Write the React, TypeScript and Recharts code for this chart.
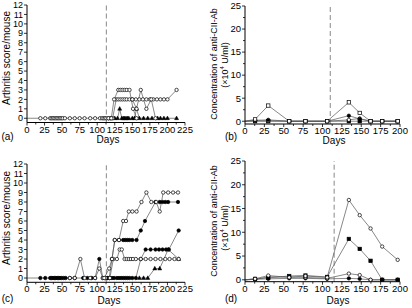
import React from "react";
import { LineChart, Line, XAxis, YAxis, ReferenceLine } from "recharts";

const FONT = '"Liberation Sans", Arial, Helvetica, sans-serif';
const LINE = "#555";

// (a) arthritis score per mouse, first group
const aDays1 = [0, 19, 26, 33, 35, 37, 39, 41, 43, 45, 47, 49, 51, 54, 61, 68, 75, 82, 90, 97, 104, 107, 109, 111, 113, 116, 119, 122, 127, 130, 133, 136, 139, 142, 146, 150, 155, 160, 165, 170, 175, 180, 185, 190, 195, 200, 213];
const aScore1 = [0, 0, 0, 0, 0, 0, 0, 0, 0, 0, 0, 0, 0, 0, 0, 0, 0, 0, 0, 0, 0, 0, 0, 0, 0, 0, 0, 0, 2, 2, 2, 2, 2, 2, 2, 2, 2, 2, 2, 2, 2, 2, 2, 2, 2, 2, 3];
const aDays2 = [116, 120, 124, 130, 133, 136, 139, 142, 146, 151, 156];
const aScore2 = [0, 0, 2, 3, 3, 3, 3, 3, 3, 1, 0];
const aDays3 = [150, 156, 162, 170, 177, 183];
const aScore3 = [2, 1, 3, 1, 2, 0];
const aDays4 = [119, 125, 129, 132, 135, 137, 139, 141, 143, 145, 150, 153, 156, 160, 166, 172, 178, 186, 190, 195, 200, 213];
const aScore4 = [0, 0, 0, 1, 0, 0, 0, 0, 0, 0, 0, 0, 1, 0, 0, 0, 0, 0, 0, 0, 0, 0];

// (c) arthritis score per mouse, second group
const cDays1 = [110, 117, 121, 125, 131, 137, 141, 145, 150, 156, 163, 170, 177, 184, 189, 194, 201, 208, 215];
const cScore1 = [0, 1, 2, 4, 4, 6, 6, 7, 7, 7, 8, 9, 8, 8, 7, 9, 9, 9, 9];
const cDays2 = [0, 19, 26, 33, 35, 37, 39, 41, 43, 45, 47, 49, 52, 55, 61, 68, 80, 86, 92, 97, 103, 108, 111, 114, 117, 121, 125, 131, 137, 140, 143, 146, 150, 156, 162, 168, 183, 189, 193, 197, 201, 215];
const cScore2 = [0, 0, 0, 0, 0, 0, 0, 0, 0, 0, 0, 0, 0, 0, 0, 0, 0, 0, 0, 0, 2, 0, 0, 0, 0, 2, 4, 4, 4, 4, 4, 4, 4, 4, 5, 6, 8, 8, 8, 8, 8, 8];
const cDays3 = [112, 118, 123, 128, 132, 135, 139, 142, 145, 148, 151, 155, 162, 169, 176, 183, 190, 197, 203, 210, 216];
const cScore3 = [0, 0, 2, 2, 3, 3, 2, 2, 2, 2, 2, 2, 2, 2, 2, 2, 2, 2, 2, 2, 2];
const cDays4 = [112, 115, 118, 121, 124, 128, 131, 134, 137, 140, 143, 146, 150, 155, 162, 169, 176, 183, 188, 193, 198, 202, 216];
const cScore4 = [0, 0, 0, 0, 0, 0, 0, 0, 0, 0, 0, 0, 0, 0, 2, 3, 3, 3, 3, 3, 3, 3, 5];
const cDays5 = [160, 166, 172, 182, 189, 201, 216];
const cScore5 = [0, 0, 0, 1, 1, 3, 2];
const cDays6 = [61, 68, 76, 82, 90, 97, 103, 108];
const cScore6 = [0, 0, 2, 0, 0, 0, 1, 0];

// (b), (d) anti-CII antibody, x10^4 U/ml
const abDays = [0, 13, 30, 57, 78, 106, 134, 148, 162, 177, 197];
const bAb1 = [0, 0.4, 3.4, 0, 0, 0, 4.1, 1.8, 0, 0, 0];
const bAb2 = [0, 0.2, 0.3, 0, 0, 0, 1.2, 0.5, 0, 0, 0];
const bAb3 = [0, 0.1, 0.1, 0, 0, 0, 0.3, 0.6, 0, 0, 0];
const bAb4 = [0, 0, 0, 0, 0, 0, 0, 0, 0, 0, 0];
const dAb1 = [0, 0.2, 0.9, 0.5, 0.8, 0.5, 16.8, 13.6, 10.8, 7.0, 4.2];
const dAb2 = [0, 0.2, 0.4, 0.8, 0.9, 0.6, 8.6, 6.5, 4.0, 0, 0];
const dAb3 = [0, 0.1, 0.6, 0.6, 0.5, 0.3, 1.3, 1.0, 0, 0, 0];
const dAb4 = [0, 0.1, 0.2, 0.3, 0.3, 0.2, 0.3, 0.2, 0, 0, 0];

const scoreXTicks = [0, 12.5, 25, 37.5, 50, 62.5, 75, 87.5, 100, 112.5, 125, 137.5, 150, 162.5, 175, 187.5, 200, 212.5, 225];
const scoreYTicks = [0, 1, 2, 3, 4, 5, 6, 7, 8, 9, 10, 11, 12];
const abXTicks = [0, 12.5, 25, 37.5, 50, 62.5, 75, 87.5, 100, 112.5, 125, 137.5, 150, 162.5, 175, 187.5, 200];
const abYTicks = [0, 2.5, 5, 7.5, 10, 12.5, 15, 17.5, 20, 22.5, 25];

type Shape = "oc" | "fc" | "os" | "fs" | "ft";
type Series = { days: number[]; vals: number[]; shape: Shape };

const rows = (days: number[], vals: number[]) => days.map((day, i) => ({ day, v: vals[i] }));

const marker = (shape: Shape) => (p: any) => {
  const { cx, cy, index, payload } = p;
  const k = `${shape}-${index}`;
  if (cx == null || cy == null || payload?.day === 0) return <g key={k} />;
  const r = 1.7;
  const fill = shape[0] === "f" ? "#000" : "#fff";
  if (shape === "oc" || shape === "fc")
    return <circle key={k} cx={cx} cy={cy} r={r} fill={fill} stroke="#000" strokeWidth={0.7} />;
  if (shape === "ft")
    return (
      <path key={k} d={`M${cx},${cy - 2.2}L${cx + 2},${cy + 1.4}L${cx - 2},${cy + 1.4}Z`} fill={fill} stroke="#000" strokeWidth={0.5} />
    );
  return <rect key={k} x={cx - 1.7} y={cy - 1.7} width={3.4} height={3.4} fill={fill} stroke="#000" strokeWidth={0.7} />;
};

const XTick = (p: any) => {
  const { x, y, payload } = p;
  const v = payload.value;
  const major = v % 25 === 0;
  return (
    <g>
      <line x1={x} y1={y} x2={x} y2={y + (major ? 3 : 2)} stroke="#000" strokeWidth={0.8} />
      {major && (
        <text x={x} y={y + 10} textAnchor="middle" fontSize={9.5} fontFamily={FONT} fill="#000">
          {v}
        </text>
      )}
    </g>
  );
};

const yTick = (step: number, size: number) => (p: any) => {
  const { x, y, payload } = p;
  const v = payload.value;
  const major = v % step === 0;
  return (
    <g>
      <line x1={x} y1={y} x2={x - (major ? 3 : 2)} y2={y} stroke="#000" strokeWidth={0.8} />
      {major && (
        <text x={x - 4} y={y + size * 0.35} textAnchor="end" fontSize={size} fontFamily={FONT} fill="#000">
          {v}
        </text>
      )}
    </g>
  );
};

function Panel(props: {
  left: number;
  top: number;
  margin: { top: number; right: number; bottom: number; left: number };
  yWidth: number;
  xHeight: number;
  xMax: number;
  xTicks: number[];
  yDomain: [number, number];
  yTicks: number[];
  yStep: number;
  yFont: number;
  refX: number;
  series: Series[];
}) {
  const p = props;
  return (
    <div style={{ position: "absolute", left: p.left, top: p.top }}>
      <LineChart width={206} height={154} margin={p.margin}>
        <XAxis
          type="number"
          dataKey="day"
          domain={[0, p.xMax]}
          ticks={p.xTicks}
          interval={0}
          height={p.xHeight}
          tickLine={false}
          tickSize={0}
          tickMargin={0}
          tick={XTick}
          axisLine={{ stroke: "#000", strokeWidth: 1 }}
        />
        <YAxis
          type="number"
          domain={p.yDomain}
          ticks={p.yTicks}
          interval={0}
          width={p.yWidth}
          tickLine={false}
          tickSize={0}
          tickMargin={0}
          tick={yTick(p.yStep, p.yFont)}
          axisLine={{ stroke: "#000", strokeWidth: 1 }}
          allowDataOverflow
        />
        <ReferenceLine x={p.refX} stroke="#888" strokeWidth={1} strokeDasharray="5 3" />
        {p.series.map((s, i) => (
          <Line
            key={i}
            data={rows(s.days, s.vals)}
            dataKey="v"
            type="linear"
            stroke={LINE}
            strokeWidth={0.7}
            dot={marker(s.shape)}
            activeDot={false}
            isAnimationActive={false}
          />
        ))}
      </LineChart>
    </div>
  );
}

const aSeries: Series[] = [
  { days: aDays4, vals: aScore4, shape: "ft" },
  { days: aDays1, vals: aScore1, shape: "oc" },
  { days: aDays2, vals: aScore2, shape: "oc" },
  { days: aDays3, vals: aScore3, shape: "oc" },
];
const cSeries: Series[] = [
  { days: cDays2, vals: cScore2, shape: "fc" },
  { days: cDays4, vals: cScore4, shape: "fc" },
  { days: cDays5, vals: cScore5, shape: "ft" },
  { days: cDays6, vals: cScore6, shape: "oc" },
  { days: cDays3, vals: cScore3, shape: "oc" },
  { days: cDays1, vals: cScore1, shape: "oc" },
];
const bSeries: Series[] = [
  { days: abDays, vals: bAb4, shape: "fs" },
  { days: abDays, vals: bAb3, shape: "oc" },
  { days: abDays, vals: bAb2, shape: "fc" },
  { days: abDays, vals: bAb1, shape: "os" },
];
const dSeries: Series[] = [
  { days: abDays, vals: dAb4, shape: "fc" },
  { days: abDays, vals: dAb3, shape: "oc" },
  { days: abDays, vals: dAb2, shape: "fs" },
  { days: abDays, vals: dAb1, shape: "oc" },
];

const T = { fontFamily: FONT, fill: "#000" } as const;

function AbTitle({ x, y1, y2 }: { x: number; y1: number; y2: number }) {
  return (
    <g>
      <text {...T} fontSize={9} x={x} y={y1} textAnchor="middle" transform={`rotate(-90 ${x} ${y1})`}>
        Concentration of anti-CII-Ab
      </text>
      <text {...T} fontSize={9} x={x + 11} y={y2} textAnchor="middle" transform={`rotate(-90 ${x + 11} ${y2})`}>
        (×10
        <tspan fontSize={6} dy={-3.5}>
          4
        </tspan>
        <tspan dy={3.5}> U/ml)</tspan>
      </text>
    </g>
  );
}

export default function App() {
  return (
    <div style={{ position: "absolute", left: 0, top: 0, width: 412, height: 308, background: "#fff" }}>
      <Panel left={0} top={0} margin={{ top: 5, right: 21, bottom: 0, left: 0 }} yWidth={27} xHeight={31.5} xMax={225} xTicks={scoreXTicks} yDomain={[-0.45, 12]} yTicks={scoreYTicks} yStep={1} yFont={9} refX={113} series={aSeries} />
      <Panel left={206} top={0} margin={{ top: 6, right: 12, bottom: 0, left: 0 }} yWidth={39} xHeight={30} xMax={200} xTicks={abXTicks} yDomain={[-0.6, 25]} yTicks={abYTicks} yStep={5} yFont={9.5} refX={110} series={bSeries} />
      <Panel left={0} top={154} margin={{ top: 10, right: 21, bottom: 0, left: 0 }} yWidth={27} xHeight={25.7} xMax={225} xTicks={scoreXTicks} yDomain={[-0.45, 12]} yTicks={scoreYTicks} yStep={1} yFont={9} refX={113} series={cSeries} />
      <Panel left={206} top={154} margin={{ top: 7, right: 12, bottom: 0, left: 0 }} yWidth={39} xHeight={26.3} xMax={200} xTicks={abXTicks} yDomain={[-0.4, 25]} yTicks={abYTicks} yStep={5} yFont={9.5} refX={115} series={dSeries} />
      <svg width={412} height={308} style={{ position: "absolute", left: 0, top: 0, pointerEvents: "none" }}>
        <text {...T} fontSize={10} x={9.5} y={58} textAnchor="middle" transform="rotate(-90 9.5 58)">
          Arthritis score/mouse
        </text>
        <text {...T} fontSize={10} x={9.5} y={218} textAnchor="middle" transform="rotate(-90 9.5 218)">
          Arthritis score/mouse
        </text>
        <AbTitle x={216.5} y1={64} y2={65} />
        <AbTitle x={216.5} y1={221} y2={228} />
        <text {...T} fontSize={10} x={7.5} y={140} textAnchor="middle">(a)</text>
        <text {...T} fontSize={10} x={108} y={143} textAnchor="middle">Days</text>
        <text {...T} fontSize={10} x={231} y={140} textAnchor="middle">(b)</text>
        <text {...T} fontSize={10} x={334} y={143.5} textAnchor="middle">Days</text>
        <text {...T} fontSize={10} x={7.5} y={302} textAnchor="middle">(c)</text>
        <text {...T} fontSize={10} x={109} y={304} textAnchor="middle">Days</text>
        <text {...T} fontSize={10} x={231} y={302} textAnchor="middle">(d)</text>
        <text {...T} fontSize={10} x={338} y={304} textAnchor="middle">Days</text>
      </svg>
    </div>
  );
}
